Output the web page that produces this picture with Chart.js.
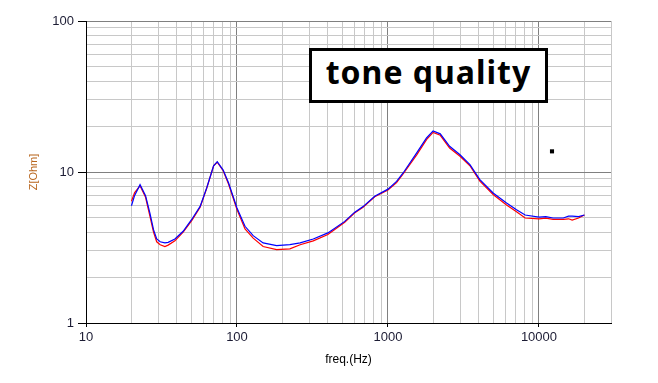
<!DOCTYPE html>
<html><head><meta charset="utf-8">
<script src="https://cdn.jsdelivr.net/npm/chart.js@4"></script>
<style>
html,body{margin:0;padding:0;background:#fff;}
#wrap{position:relative;width:658px;height:383px;}
#box{position:absolute;left:309px;top:48px;width:233px;height:49px;border:3px solid #000;background:#fff;font-family:"Noto Sans",sans-serif;font-weight:700;font-size:32px;letter-spacing:1px;line-height:42px;text-align:center;color:#000;white-space:nowrap;}
</style></head><body>
<div id="wrap"><canvas id="c" width="658" height="383"></canvas><div id="box">tone quality</div></div>
<script>
const freqHz = [20, 21, 22.8, 24.8, 26.5, 28, 29.4, 31, 33.3, 35, 38.8, 44, 50, 57, 63, 70, 74, 81, 88, 100, 113, 128, 149, 183, 224, 262, 320, 400, 517, 600, 684, 817, 1000, 1140, 1260, 1550, 1800, 1990, 2220, 2560, 3000, 3490, 4060, 4970, 6100, 7100, 8100, 10000, 11100, 12400, 14500, 15700, 16600, 18300, 20000];
const blueOhm = [5.98, 7.0, 8.24, 6.97, 5.35, 4.15, 3.6, 3.45, 3.39, 3.42, 3.6, 4.05, 4.83, 5.92, 7.83, 11.0, 11.7, 10.3, 8.45, 5.78, 4.37, 3.79, 3.39, 3.25, 3.3, 3.39, 3.6, 3.95, 4.71, 5.4, 5.9, 6.9, 7.7, 8.67, 9.85, 13.4, 16.8, 18.7, 17.9, 14.8, 13.0, 11.2, 8.9, 7.26, 6.24, 5.62, 5.19, 5.03, 5.06, 4.96, 4.96, 5.1, 5.1, 5.06, 5.19];
const redOhm = [6.4, 7.3, 8.1, 6.8, 5.1, 4.0, 3.45, 3.3, 3.21, 3.28, 3.5, 4.0, 4.75, 5.85, 7.8, 11.0, 11.6, 10.2, 8.3, 5.65, 4.2, 3.65, 3.21, 3.06, 3.1, 3.3, 3.5, 3.85, 4.65, 5.35, 5.85, 6.85, 7.6, 8.5, 9.7, 13.0, 16.4, 18.3, 17.5, 14.4, 12.7, 11.0, 8.7, 7.1, 6.05, 5.45, 4.96, 4.9, 4.95, 4.85, 4.85, 4.9, 4.8, 4.96, 5.19];
const markerFreq = [12200];
const markerOhm = [13.7];
const xTickLabels = ['10', '100', '1000', '10000'];
const yTickLabels = ['1', '10', '100'];
const xTickValues = [10,20,30,40,50,60,70,80,90,100,200,300,400,500,600,700,800,900,1000,2000,3000,4000,5000,6000,7000,8000,9000,10000,20000,30000];
const yTickValues = [1,2,3,4,5,6,7,8,9,10,20,30,40,50,60,70,80,90,100];

const toPts = (xs, ys) => xs.map((x, i) => ({x: x, y: ys[i]}));
const isDecade = v => Math.abs(Math.log10(v) - Math.round(Math.log10(v))) < 1e-9;
const labelFont = {family: '"Liberation Sans", Arial, sans-serif', size: 13};

new Chart(document.getElementById('c'), {
  type: 'line',
  data: {
    datasets: [
      {data: toPts(freqHz, blueOhm), borderColor: '#0000ff', borderWidth: 1.2, pointRadius: 0, tension: 0, fill: false},
      {data: toPts(freqHz, redOhm), borderColor: '#ff0000', borderWidth: 1.2, pointRadius: 0, tension: 0, fill: false},
      {data: toPts(markerFreq, markerOhm), showLine: false, pointStyle: 'rect', pointRadius: 2.9, pointBackgroundColor: '#000', pointBorderWidth: 0}
    ]
  },
  options: {
    responsive: false,
    animation: false,
    devicePixelRatio: 1,
    layout: {padding: {left: 0, right: 47, top: 21, bottom: 0}},
    plugins: {legend: {display: false}, tooltip: {enabled: false}},
    scales: {
      x: {
        type: 'logarithmic', min: 10, max: 30000, position: 'bottom',
        afterBuildTicks: s => { s.ticks = xTickValues.map(v => ({value: v})); },
        afterFit: s => { s.height = 60; },
        border: {display: true, color: '#000', width: 1},
        grid: {
          color: c => isDecade(c.tick.value) ? '#808080' : '#c8c8c8',
          tickColor: c => xTickLabels.includes(String(c.tick.value)) ? '#000' : 'rgba(0,0,0,0)',
          tickLength: 4, lineWidth: 1
        },
        ticks: {
          autoSkip: false, maxRotation: 0, padding: 3, color: '#1c1c34', font: labelFont,
          callback: v => xTickLabels.includes(String(v)) ? String(v) : ''
        },
        title: {display: true, text: 'freq.(Hz)', color: '#000', font: {family: '"Liberation Sans", Arial, sans-serif', size: 12}, padding: {top: 0, bottom: 16}}
      },
      y: {
        type: 'logarithmic', min: 1, max: 100, position: 'left',
        afterBuildTicks: s => { s.ticks = yTickValues.map(v => ({value: v})); },
        afterFit: s => { s.width = 86; },
        border: {display: true, color: '#000', width: 1},
        grid: {
          color: c => isDecade(c.tick.value) ? '#808080' : '#c8c8c8',
          tickColor: c => yTickLabels.includes(String(c.tick.value)) ? '#000' : 'rgba(0,0,0,0)',
          tickLength: 8, lineWidth: 1
        },
        ticks: {
          autoSkip: false, padding: 4, color: '#1c1c34', font: labelFont,
          callback: v => yTickLabels.includes(String(v)) ? String(v) : ''
        },
        title: {display: true, text: 'Z[Ohm]', color: '#b8661e', font: {family: '"Liberation Sans", Arial, sans-serif', size: 11}, padding: {top: 27, bottom: 0}}
      }
    }
  }
});
</script>
</body></html>
